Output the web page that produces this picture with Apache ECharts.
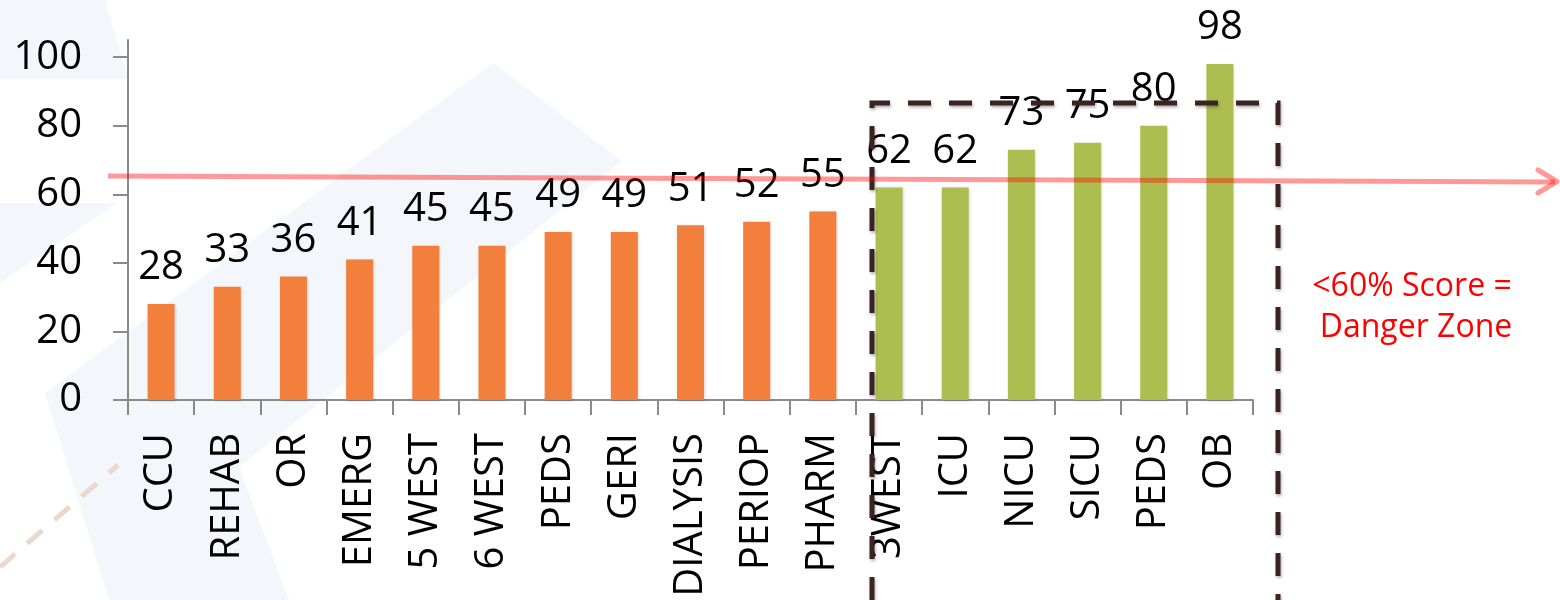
<!DOCTYPE html>
<html>
<head>
<meta charset="utf-8">
<script src="https://cdn.jsdelivr.net/npm/echarts@6/dist/echarts.min.js"></script>
<style>
html,body{margin:0;padding:0;background:#fff;}
#chart{width:1560px;height:600px;}
</style>
</head>
<body>
<div id="chart"></div>
<script>
const categories = ['CCU','REHAB','OR','EMERG','5 WEST','6 WEST','PEDS','GERI','DIALYSIS','PERIOP','PHARM','3WEST','ICU','NICU','SICU','PEDS','OB'];
const scores = [28,33,36,41,45,45,49,49,51,52,55,62,62,73,75,80,98];
const yTicks = [0,20,40,60,80,100];
const threshold = 60;
const noteLines = ['<60% Score =', 'Danger Zone'];

const FONT = 'Open Sans';
const ORANGE = '#F37F3D';
const GREEN = '#ACBE4F';

const barData = scores.map(v => ({
  value: v,
  itemStyle: { color: v < threshold ? ORANGE : GREEN }
}));

const chart = echarts.init(document.getElementById('chart'), null, {renderer:'canvas'});
chart.setOption({
  backgroundColor: '#ffffff',
  animation: false,
  grid: { left: 128, right: 307, top: 40, bottom: 200, containLabel: false },
  xAxis: {
    type: 'category',
    data: categories,
    boundaryGap: true,
    axisLine: { show: true, lineStyle: { color: '#8a8a8a', width: 2 } },
    axisTick: { show: true, length: 15, alignWithLabel: false, lineStyle: { color: '#8a8a8a', width: 2 } },
    axisLabel: { interval: 0, rotate: 90, margin: 33, fontSize: 40, color: '#000', fontFamily: FONT }
  },
  yAxis: {
    type: 'value',
    min: 0, max: 105, interval: 20,
    splitLine: { show: false },
    axisLine: { show: true, lineStyle: { color: '#8a8a8a', width: 2 } },
    axisTick: { show: true, length: 15, customValues: yTicks, lineStyle: { color: '#8a8a8a', width: 2 } },
    axisLabel: { customValues: yTicks, margin: 46, fontSize: 40, color: '#000', fontFamily: FONT }
  },
  series: [{
    type: 'bar',
    data: barData,
    barWidth: 27,
    itemStyle: { shadowColor: 'rgba(0,0,0,0.18)', shadowBlur: 3, shadowOffsetX: 1, shadowOffsetY: 1 },
    label: { show: true, position: 'top', distance: 16, fontSize: 40, color: '#000', fontFamily: FONT }
  }],
  graphic: [
    { type: 'polygon', z: -10, silent: true, shape: { points: [[0,0],[105,0],[128,79],[0,79]] }, style: { fill: '#F3F6FB' } },
    { type: 'polygon', z: -10, silent: true, shape: { points: [[0,203],[117,203],[0,283]] }, style: { fill: '#F3F6FB' } },
    { type: 'polygon', z: -10, silent: true, shape: { points: [[493,63],[622,161],[239,467],[289,600],[109,600],[45,393]] }, style: { fill: '#F3F6FB' } },
    { type: 'polyline', z: -9, silent: true, shape: { points: [[0,567],[118,465]] }, style: { stroke: '#EAD8CC', lineWidth: 5, lineDash: [20,16], fill: null } },
    { type: 'polyline', z: 100, silent: true, shape: { points: [[872,600],[872,103],[1278,103],[1278,600]] },
      style: { stroke: '#3B2420', lineWidth: 5, lineDash: [23,18], fill: null, shadowColor: 'rgba(0,0,0,0.3)', shadowBlur: 3, shadowOffsetX: 1, shadowOffsetY: 2 } },
    { type: 'line', z: 101, silent: true, shape: { x1: 108, y1: 176, x2: 1555, y2: 182 }, style: { stroke: 'rgba(255,0,0,0.4)', lineWidth: 5 } },
    { type: 'polyline', z: 101, silent: true, shape: { points: [[1538,170],[1557,181.5],[1538,193]] }, style: { stroke: 'rgba(255,0,0,0.4)', lineWidth: 5, lineCap: 'round', lineJoin: 'round', fill: null } },
    { type: 'text', z: 102, silent: true, x: 1412, y: 287, style: { text: noteLines[0], fontSize: 32, fontFamily: FONT, fill: '#FF0000', align: 'center', verticalAlign: 'middle' } },
    { type: 'text', z: 102, silent: true, x: 1416, y: 328, style: { text: noteLines[1], fontSize: 32, fontFamily: FONT, fill: '#FF0000', align: 'center', verticalAlign: 'middle' } }
  ]
});
</script>
</body>
</html>
